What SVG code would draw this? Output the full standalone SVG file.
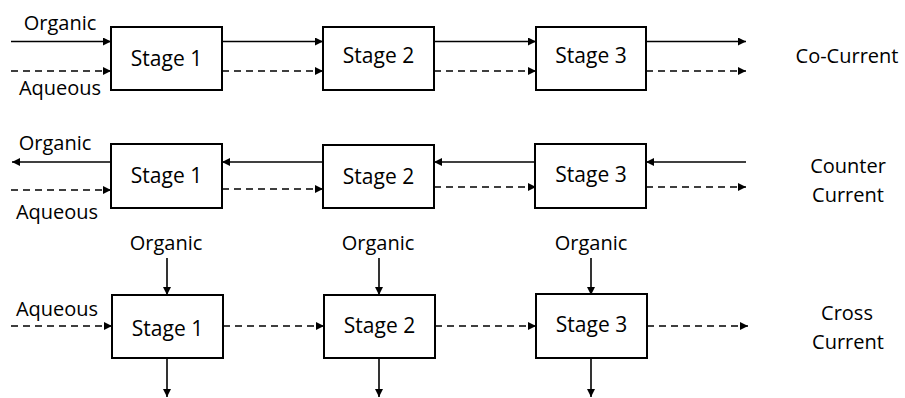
<svg xmlns="http://www.w3.org/2000/svg" width="905" height="398" viewBox="0 0 905 398">
  <style>
    text { font-family: "Open Sans", "Liberation Sans", sans-serif; font-size: 20px; fill: #000; }
    .mid { text-anchor: middle; }
    .stage { font-size: 21px; }
    .box { fill: #fff; stroke: #000; stroke-width: 2; }
    .flow { fill: none; stroke: #000; stroke-width: 1.6; marker-end: url(#head); }
    .dash { stroke-dasharray: 7 5; }
  </style>
  <defs>
    <marker id="head" viewBox="0 0 10 10" refX="10" refY="5" markerWidth="9" markerHeight="8" markerUnits="userSpaceOnUse" orient="auto">
      <path d="M0,0 L10,5 L0,10 z" fill="#000"/>
    </marker>
  </defs>

  <!-- connectors -->
  <g id="connectors">
    <!-- co-current: organic (solid) and aqueous (dashed) both flow right -->
    <line class="flow" x1="11" y1="41.5" x2="111" y2="41.5"/>
    <line class="flow" x1="222" y1="41.5" x2="323" y2="41.5"/>
    <line class="flow" x1="434" y1="41.5" x2="536" y2="41.5"/>
    <line class="flow" x1="646" y1="41.5" x2="746" y2="41.5"/>
    <line class="flow dash" x1="11" y1="71" x2="111" y2="71"/>
    <line class="flow dash" x1="222" y1="71" x2="323" y2="71"/>
    <line class="flow dash" x1="434" y1="71" x2="536" y2="71"/>
    <line class="flow dash" x1="646" y1="71" x2="746" y2="71"/>

    <!-- counter current: organic flows left, aqueous flows right -->
    <line class="flow" x1="111" y1="162" x2="12" y2="162"/>
    <line class="flow" x1="323" y1="162" x2="222" y2="162"/>
    <line class="flow" x1="536" y1="162" x2="434" y2="162"/>
    <line class="flow" x1="746" y1="162" x2="646" y2="162"/>
    <line class="flow dash" x1="11" y1="190" x2="111" y2="190"/>
    <line class="flow dash" x1="222" y1="189" x2="323" y2="189"/>
    <line class="flow dash" x1="434" y1="187" x2="536" y2="187"/>
    <line class="flow dash" x1="646" y1="187" x2="746" y2="187"/>

    <!-- cross current: fresh organic into each stage, aqueous passes through -->
    <line class="flow" x1="167" y1="258" x2="167" y2="295"/>
    <line class="flow" x1="379" y1="258" x2="379" y2="295"/>
    <line class="flow" x1="591" y1="258" x2="591" y2="295"/>
    <line class="flow" x1="167" y1="358" x2="167" y2="397"/>
    <line class="flow" x1="379" y1="358" x2="379" y2="397"/>
    <line class="flow" x1="591" y1="358" x2="591" y2="397"/>
    <line class="flow dash" x1="11" y1="326" x2="112" y2="326"/>
    <line class="flow dash" x1="223" y1="326" x2="324" y2="326"/>
    <line class="flow dash" x1="435" y1="326" x2="536" y2="326"/>
    <line class="flow dash" x1="647" y1="326" x2="748" y2="326"/>
  </g>

  <!-- co-current row -->
  <g id="co-stage1"><rect class="box" x="111" y="27" width="111" height="63"/><text class="mid stage" x="166.5" y="66">Stage 1</text></g>
  <g id="co-stage2"><rect class="box" x="323" y="27" width="111" height="63"/><text class="mid stage" x="378.5" y="63">Stage 2</text></g>
  <g id="co-stage3"><rect class="box" x="536" y="27" width="110" height="63"/><text class="mid stage" x="591" y="63">Stage 3</text></g>
  <g id="co-labels">
    <text class="mid" x="60" y="30">Organic</text>
    <text class="mid" x="60" y="95">Aqueous</text>
    <text class="mid" x="847" y="63">Co-Current</text>
  </g>

  <!-- counter current row -->
  <g id="cc-stage1"><rect class="box" x="111" y="144" width="111" height="64"/><text class="mid stage" x="166.5" y="183">Stage 1</text></g>
  <g id="cc-stage2"><rect class="box" x="323" y="145" width="111" height="63"/><text class="mid stage" x="378.5" y="184">Stage 2</text></g>
  <g id="cc-stage3"><rect class="box" x="535" y="144" width="111" height="64"/><text class="mid stage" x="591" y="182">Stage 3</text></g>
  <g id="cc-labels">
    <text class="mid" x="55" y="150">Organic</text>
    <text class="mid" x="57" y="219">Aqueous</text>
    <text class="mid" x="848" y="173">Counter</text>
    <text class="mid" x="848" y="202">Current</text>
  </g>

  <!-- cross current row -->
  <g id="x-stage1"><rect class="box" x="112" y="295" width="111" height="63"/><text class="mid stage" x="167.5" y="336">Stage 1</text></g>
  <g id="x-stage2"><rect class="box" x="324" y="295" width="111" height="63"/><text class="mid stage" x="379.5" y="333">Stage 2</text></g>
  <g id="x-stage3"><rect class="box" x="536" y="294" width="111" height="64"/><text class="mid stage" x="591.5" y="332">Stage 3</text></g>
  <g id="x-labels">
    <text class="mid" x="166" y="250">Organic</text>
    <text class="mid" x="378" y="250">Organic</text>
    <text class="mid" x="591" y="250">Organic</text>
    <text class="mid" x="57" y="316">Aqueous</text>
    <text class="mid" x="847" y="320">Cross</text>
    <text class="mid" x="848" y="349">Current</text>
  </g>
</svg>
